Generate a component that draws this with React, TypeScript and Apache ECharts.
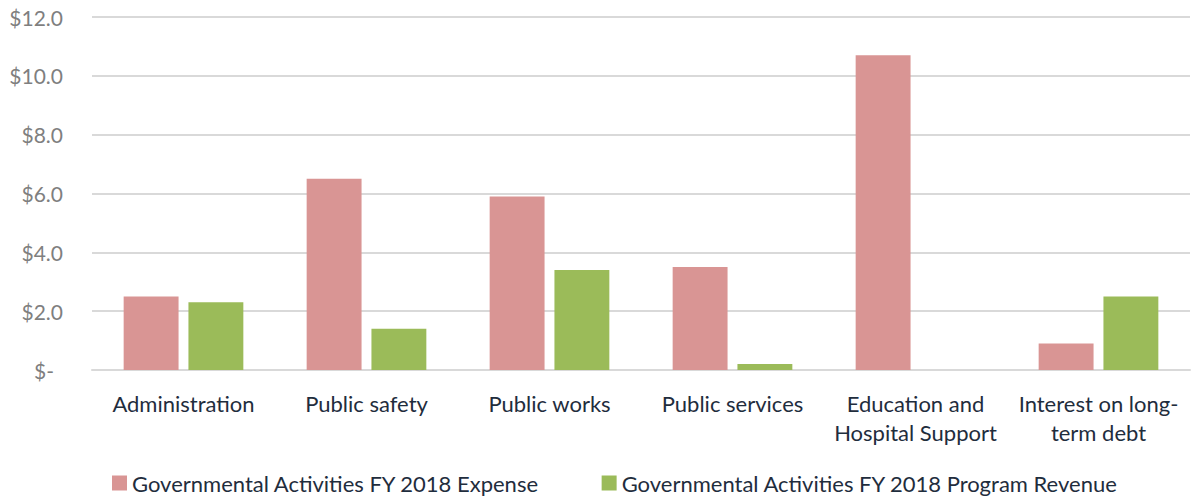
import React, { useEffect, useRef } from "react";
import * as echarts from "echarts";

const categories = [
  "Administration",
  "Public safety",
  "Public works",
  "Public services",
  "Education and\nHospital Support",
  "Interest on long-\nterm debt",
];
const expense = [2.5, 6.5, 5.9, 3.5, 10.7, 0.9];
const revenue = [2.3, 1.4, 3.4, 0.2, 0, 2.5];
const seriesNames = [
  "Governmental Activities FY 2018 Expense",
  "Governmental Activities FY 2018 Program Revenue",
];

export default function App() {
  const ref = useRef<HTMLDivElement>(null);
  useEffect(() => {
    document.body.style.margin = "0";
    if (!ref.current) return;
    const chart = echarts.init(ref.current, null, { renderer: "svg" });
    const font = "Lato, 'Open Sans', sans-serif";
    chart.setOption({
      animation: false,
      textStyle: { fontFamily: font },
      grid: { left: 92, right: 8, top: 17, bottom: 127 },
      legend: {
        data: seriesNames,
        top: 472,
        left: 112,
        padding: 0,
        itemWidth: 15,
        itemHeight: 15,
        itemGap: 62,
        icon: "rect",
        textStyle: { color: "#1F2D3D", fontSize: 22, fontFamily: font },
      },
      xAxis: {
        type: "category",
        data: categories,
        axisLine: { lineStyle: { color: "#D9D9D9", width: 2 } },
        axisTick: { show: false },
        axisLabel: {
          color: "#1F2D3D",
          fontSize: 22,
          lineHeight: 29,
          margin: 19,
          interval: 0,
          fontFamily: font,
        },
      },
      yAxis: {
        type: "value",
        min: 0,
        max: 12,
        interval: 2,
        axisLine: { show: false },
        axisTick: { show: false },
        splitLine: { lineStyle: { color: "#D9D9D9", width: 2 } },
        axisLabel: {
          color: "#7F7F7F",
          fontSize: 21,
          margin: 29,
          fontFamily: font,
          formatter: (v: number) => (v === 0 ? "{z|$-}" : "$" + v.toFixed(1)),
          rich: { z: { padding: [0, 9, 0, 0], color: "#7F7F7F", fontSize: 21, fontFamily: font } },
        },
      },
      series: [
        {
          name: seriesNames[0],
          type: "bar",
          data: expense,
          barWidth: "30%",
          barGap: "18%",
          itemStyle: { color: "#D99594" },
        },
        {
          name: seriesNames[1],
          type: "bar",
          data: revenue,
          barWidth: "30%",
          itemStyle: { color: "#9BBB59" },
        },
      ],
    });
    return () => chart.dispose();
  }, []);
  return <div ref={ref} style={{ width: 1198, height: 497 }} />;
}
